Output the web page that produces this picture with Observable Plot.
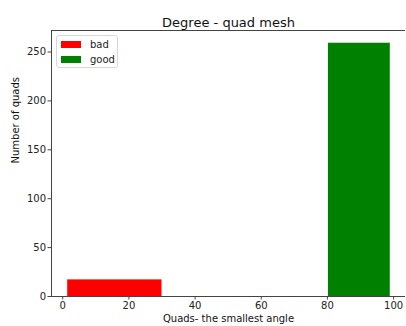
<!DOCTYPE html>
<html>
<head>
<meta charset="utf-8">
<script src="https://cdn.jsdelivr.net/npm/d3@7"></script>
<script src="https://cdn.jsdelivr.net/npm/@observablehq/plot@0.6"></script>
<style>
  html, body { margin: 0; padding: 0; background: #fff; overflow: hidden; }
  #chart { position: relative; width: 406px; height: 326px; font-family: "DejaVu Sans", sans-serif; }
  .legend { position: absolute; left: 56px; top: 35px; width: 60px; height: 31px;
            border: 1px solid #d8d8d8; border-radius: 3px; background: rgba(255,255,255,0.8);
            font-size: 10px; color: #222; }
  .legend .item { position: absolute; left: 4px; height: 14px; display: flex; align-items: center; }
  .legend .sw { width: 20px; height: 7px; margin-right: 9px; }
</style>
</head>
<body>
<div id="chart"></div>
<script>
// Histogram of the smallest angle per quad, split into bad / good bins
const categories = ["bad", "good"];
const binStart = [1.5, 80.3];
const binEnd = [30, 99];
const counts = [17, 259];
const xTicks = [0, 20, 40, 60, 80, 100];
const yTicks = [0, 50, 100, 150, 200, 250];
const palette = ["red", "green"];

const xDomain = [-3.4, 103.6];
const yDomain = [0, 272];

const bins = categories.map((c, i) => ({ category: c, x1: binStart[i], x2: binEnd[i], count: counts[i] }));

const spine = { stroke: "#444", strokeWidth: 1 };

const chart = Plot.plot({
  width: 406,
  height: 326,
  marginLeft: 51,
  marginRight: 1,
  marginTop: 30,
  marginBottom: 30,
  style: { fontFamily: "DejaVu Sans, sans-serif", background: "white" },
  x: { domain: xDomain },
  y: { domain: yDomain },
  color: { domain: categories, range: palette },
  marks: [
    Plot.rectY(bins, { x1: "x1", x2: "x2", y: "count", fill: "category" }),
    // left, top and bottom spines (the right one falls outside the view)
    Plot.ruleX([xDomain[0]], spine),
    Plot.ruleY([yDomain[0], yDomain[1]], spine),
    Plot.axisX({ ticks: xTicks, tickSize: 3.5, tickPadding: 2, fontSize: 10, label: null, stroke: "#444", fill: "#222" }),
    Plot.axisY({ ticks: yTicks, tickSize: 3.5, tickPadding: 2, fontSize: 10, label: null, stroke: "#444", fill: "#222" }),
    Plot.text(["Degree - quad mesh"], { frameAnchor: "top", dy: -13, fontSize: 13, fill: "#111" }),
    Plot.text(["Quads- the smallest angle"], { frameAnchor: "bottom", dy: 25, fontSize: 10, fill: "#111" }),
    Plot.text(["Number of quads"], { frameAnchor: "left", dx: -36, rotate: -90, fontSize: 10, fill: "#111" })
  ]
});

const root = document.getElementById("chart");
root.appendChild(chart);

// Legend box in the upper-left corner of the axes
const legend = document.createElement("div");
legend.className = "legend";
categories.forEach((c, i) => {
  const item = document.createElement("div");
  item.className = "item";
  item.style.top = (1 + i * 15) + "px";
  const sw = document.createElement("span");
  sw.className = "sw";
  sw.style.background = palette[i];
  const label = document.createElement("span");
  label.textContent = c;
  item.appendChild(sw);
  item.appendChild(label);
  legend.appendChild(item);
});
root.appendChild(legend);
</script>
</body>
</html>
